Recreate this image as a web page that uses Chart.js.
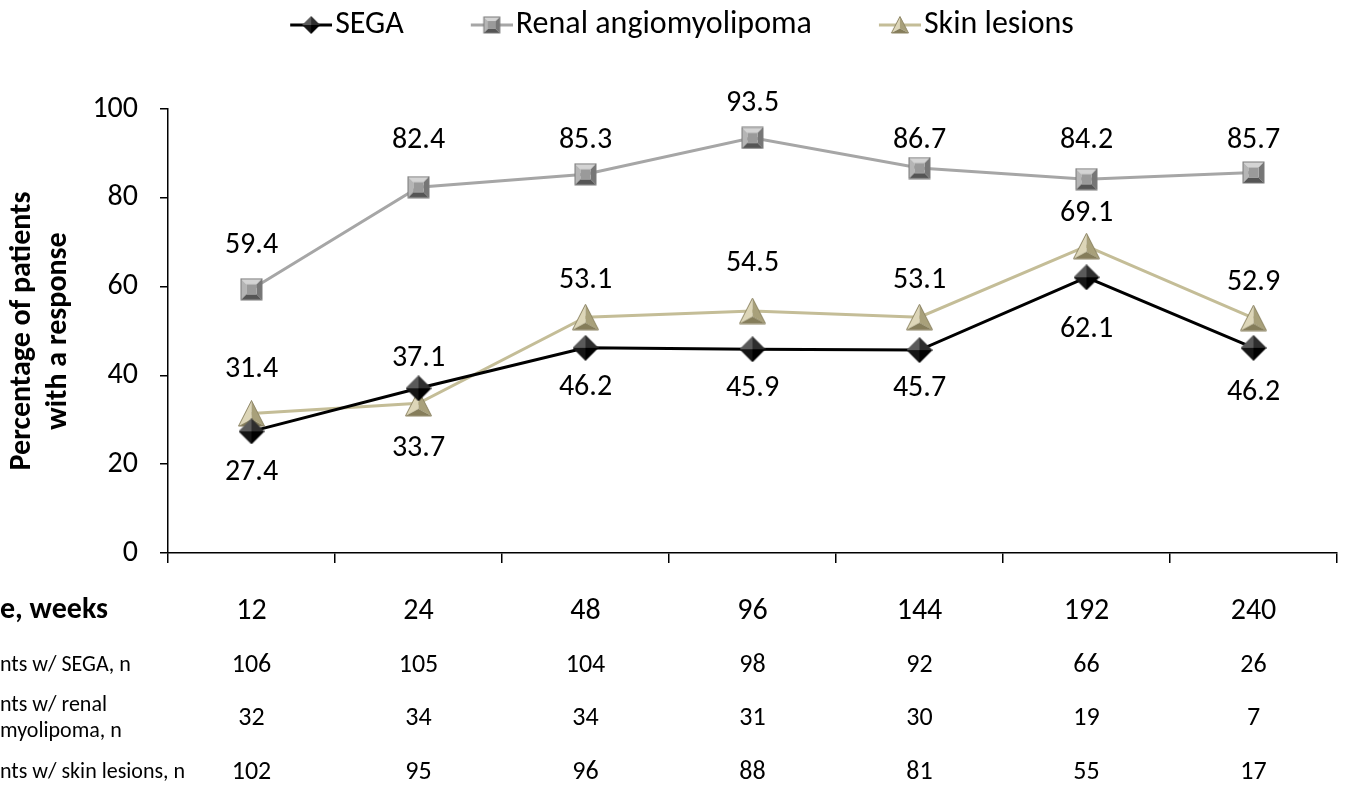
<!DOCTYPE html>
<html>
<head>
<meta charset="utf-8">
<script src="https://cdn.jsdelivr.net/npm/chart.js@4/dist/chart.umd.min.js"></script>
<style>
  html, body { margin: 0; padding: 0; background: #fff; }
  #wrap { width: 1348px; height: 788px; }
</style>
</head>
<body>
<div id="wrap"><canvas id="myChart"></canvas></div>
<script>
// данные графика
const weeks = ['12', '24', '48', '96', '144', '192', '240'];
const sega = [27.4, 37.1, 46.2, 45.9, 45.7, 62.1, 46.2];
const renal = [59.4, 82.4, 85.3, 93.5, 86.7, 84.2, 85.7];
const skin = [31.4, 33.7, 53.1, 54.5, 53.1, 69.1, 52.9];
const yTicks = [0, 20, 40, 60, 80, 100];

// таблица пациентов под графиком
const nSega = [106, 105, 104, 98, 92, 66, 26];
const nRenal = [32, 34, 34, 31, 30, 19, 7];
const nSkin = [102, 95, 96, 88, 81, 55, 17];

// сдвиг подписи от точки по вертикали (минус - над точкой)
const segaShift = [41, -30, 40, 39, 38, 52, 45];
const renalShift = [-44, -47, -34, -34, -28, -39, -32];
const skinShift = [-44, 45, -37, -48, -37, -33, -36];

const FONT = 'Carlito, Lato, sans-serif';

// рисуем маркер с объёмом (грани пирамидки)
function drawShape(g, kind, s) {
  const m = s / 2;
  if (kind === 'diamond') {
    const faces = [
      [[m, 0], [0, m], '#5a5a5a'],
      [[m, 0], [s, m], '#2e2e2e'],
      [[s, m], [m, s], '#000000'],
      [[m, s], [0, m], '#151515']
    ];
    faces.forEach(f => {
      g.beginPath(); g.moveTo(f[0][0], f[0][1]); g.lineTo(f[1][0], f[1][1]); g.lineTo(m, m); g.closePath();
      g.fillStyle = f[2]; g.fill();
    });
  } else if (kind === 'square') {
    const a = 1, b = s - 1, i1 = s * 0.28, i2 = s * 0.72;
    const faces = [
      [[a, a], [b, a], [i2, i1], [i1, i1], '#d4d4d4'],
      [[a, a], [i1, i1], [i1, i2], [a, b], '#b5b5b5'],
      [[b, a], [b, b], [i2, i2], [i2, i1], '#767676'],
      [[a, b], [i1, i2], [i2, i2], [b, b], '#555555']
    ];
    faces.forEach(f => {
      g.beginPath(); g.moveTo(f[0][0], f[0][1]);
      for (let k = 1; k < 4; k++) g.lineTo(f[k][0], f[k][1]);
      g.closePath(); g.fillStyle = f[4]; g.fill();
    });
    g.fillStyle = '#9a9a9a'; g.fillRect(i1, i1, i2 - i1, i2 - i1);
    g.strokeStyle = '#7a7a7a'; g.lineWidth = 1; g.strokeRect(a, a, b - a, b - a);
  } else {
    const top = [m, 0.5], bl = [0.5, s - 1], br = [s - 0.5, s - 1], c = [m, s * 0.7];
    const faces = [
      [top, bl, '#ddd6b8'],
      [top, br, '#a8a07a'],
      [bl, br, '#857d5a']
    ];
    faces.forEach(f => {
      g.beginPath(); g.moveTo(f[0][0], f[0][1]); g.lineTo(f[1][0], f[1][1]); g.lineTo(c[0], c[1]); g.closePath();
      g.fillStyle = f[2]; g.fill();
    });
    g.beginPath(); g.moveTo(top[0], top[1]); g.lineTo(bl[0], bl[1]); g.lineTo(br[0], br[1]); g.closePath();
    g.strokeStyle = '#8d8564'; g.lineWidth = 1; g.stroke();
  }
}

function makeMarker(kind, s) {
  const c = document.createElement('canvas');
  c.width = s; c.height = s;
  drawShape(c.getContext('2d'), kind, s);
  return c;
}

// маркер для легенды: пустое место слева, потом линия + фигура
const LEG_GAP = 40;
function makeLegendMarker(kind, color) {
  const c = document.createElement('canvas');
  c.width = LEG_GAP + 42; c.height = 22;
  const g = c.getContext('2d');
  g.strokeStyle = color; g.lineWidth = 3;
  g.beginPath(); g.moveTo(LEG_GAP, 11); g.lineTo(LEG_GAP + 42, 11); g.stroke();
  g.save(); g.translate(LEG_GAP + 12, 2); drawShape(g, kind, 18); g.restore();
  return c;
}

const segaColor = '#000000';
const renalColor = '#a6a6a6';
const skinColor = '#c4bd97';

// подписи значений у точек
const valueLabels = {
  id: 'valueLabels',
  afterDatasetsDraw(chart) {
    const ctx = chart.ctx;
    const shifts = [segaShift, renalShift, skinShift];
    ctx.save();
    ctx.font = '30px ' + FONT;
    ctx.fillStyle = '#000';
    ctx.textAlign = 'center';
    ctx.textBaseline = 'middle';
    chart.data.datasets.forEach((ds, i) => {
      chart.getDatasetMeta(i).data.forEach((pt, j) => {
        ctx.fillText(ds.data[j].toFixed(1), pt.x, pt.y + shifts[i][j]);
      });
    });
    ctx.restore();
  }
};

// таблица с числом пациентов
const patientTable = {
  id: 'patientTable',
  afterDraw(chart) {
    const ctx = chart.ctx;
    const xs = chart.scales.x;
    ctx.save();
    ctx.fillStyle = '#000';
    ctx.textBaseline = 'middle';
    ctx.font = '22px ' + FONT;
    const x0 = -ctx.measureText('Patie').width;
    ctx.textAlign = 'left';
    ctx.fillText('Patients w/ SEGA, n', x0, 665);
    ctx.fillText('Patients w/ renal', x0, 705);
    ctx.fillText('angiomyolipoma, n', -ctx.measureText('angio').width, 731);
    ctx.fillText('Patients w/ skin lesions, n', x0, 772);
    ctx.font = 'bold 30px ' + FONT;
    ctx.fillText('Time, weeks', -ctx.measureText('Tim').width, 610);
    ctx.font = '26px ' + FONT;
    ctx.textAlign = 'center';
    weeks.forEach((w, j) => {
      const x = xs.getPixelForValue(j);
      ctx.fillText(String(nSega[j]), x, 665);
      ctx.fillText(String(nRenal[j]), x, 718);
      ctx.fillText(String(nSkin[j]), x, 772);
    });
    ctx.restore();
  }
};

// место под легендой до области графика
const legendSpace = {
  id: 'legendSpace',
  beforeInit(chart) {
    const fit = chart.legend.fit;
    chart.legend.fit = function () {
      fit.bind(chart.legend)();
      this.height = 140;
    };
  }
};

let ctx = document.getElementById('myChart').getContext('2d');
let chart = new Chart(ctx, {
  type: 'line',
  data: {
    labels: weeks,
    datasets: [{
      label: 'SEGA',
      data: sega,
      borderColor: segaColor,
      borderWidth: 3,
      pointStyle: makeMarker('diamond', 26),
      legendMarker: makeLegendMarker('diamond', segaColor)
    }, {
      label: 'Renal angiomyolipoma',
      data: renal,
      borderColor: renalColor,
      borderWidth: 3,
      pointStyle: makeMarker('square', 23),
      legendMarker: makeLegendMarker('square', renalColor)
    }, {
      label: 'Skin lesions',
      data: skin,
      borderColor: skinColor,
      borderWidth: 3,
      pointStyle: makeMarker('triangle', 27),
      legendMarker: makeLegendMarker('triangle', skinColor)
    }]
  },
  options: {
    responsive: true,
    maintainAspectRatio: false,
    animation: false,
    layout: { padding: { top: -31, right: 11, left: 0, bottom: 0 } },
    plugins: {
      tooltip: { enabled: false },
      legend: {
        position: 'top',
        labels: {
          font: { family: FONT, size: 32 },
          color: '#000',
          usePointStyle: true,
          pointStyleWidth: LEG_GAP + 16,
          padding: 40,
          generateLabels(chart) {
            return chart.data.datasets.map((ds, i) => ({
              text: ds.label,
              pointStyle: ds.legendMarker,
              datasetIndex: i,
              fontColor: '#000',
              lineWidth: 0
            }));
          }
        }
      }
    },
    scales: {
      x: {
        offset: true,
        grid: { offset: true, drawOnChartArea: false, tickLength: 10, color: '#000', lineWidth: 1.5 },
        border: { color: '#000', width: 1.5 },
        ticks: { color: '#000', font: { family: FONT, size: 30 }, padding: 30, maxRotation: 0 },
        afterFit(scale) { scale.height = 235; }
      },
      y: {
        min: 0,
        max: 100,
        afterBuildTicks(scale) { scale.ticks = yTicks.map(v => ({ value: v })); },
        grid: { drawOnChartArea: false, tickLength: 8, color: '#000', lineWidth: 1.5 },
        border: { color: '#000', width: 1.5 },
        ticks: { color: '#000', font: { family: FONT, size: 30 }, padding: 22 },
        title: {
          display: true,
          text: ['Percentage of patients', 'with a response'],
          color: '#000',
          font: { family: FONT, size: 30, weight: 'bold' },
          padding: { top: 4, bottom: 0 }
        },
        afterFit(scale) { scale.width = 168; }
      }
    }
  },
  plugins: [valueLabels, patientTable, legendSpace]
});
</script>
</body>
</html>
